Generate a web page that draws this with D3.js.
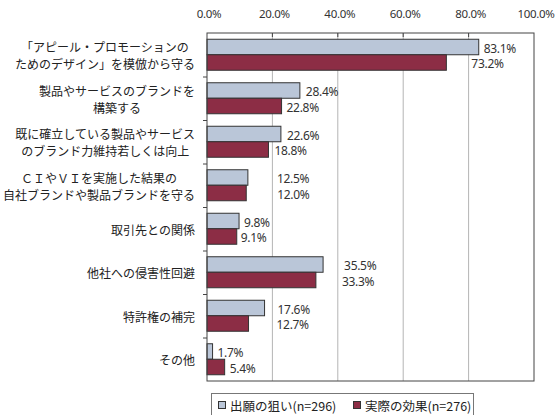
<!DOCTYPE html>
<html>
<head>
<meta charset="utf-8">
<script src="https://cdn.jsdelivr.net/npm/d3@7"></script>
<style>
  body { margin: 0; background: #fff; }
  svg { display: block; }
</style>
</head>
<body>
<script>
// categories (each label may be split in two lines)
var categories = [
  ["「アピール・プロモーションの", "ためのデザイン」を模倣から守る"],
  ["製品やサービスのブランドを", "構築する"],
  ["既に確立している製品やサービス", "のブランド力維持若しくは向上"],
  ["ＣＩやＶＩを実施した結果の", "自社ブランドや製品ブランドを守る"],
  ["取引先との関係"],
  ["他社への侵害性回避"],
  ["特許権の補完"],
  ["その他"]
];
var aims    = [83.1, 28.4, 22.6, 12.5, 9.8, 35.5, 17.6, 1.7];
var effects = [73.2, 22.8, 18.8, 12.0, 9.1, 33.3, 12.7, 5.4];
var seriesNames = ["出願の狙い(n=296)", "実際の効果(n=276)"];
var xTicks = [0, 20, 40, 60, 80, 100];

// label offsets from the bar end (px), labels were moved by hand in the original
var nudgeA = [5, 6, 6, 29, 5, 21, 13, 5];
var nudgeB = [25, 5, 6, 31, 4, 26, 28, 5];

var W = 556, H = 415;
var plotLeft = 207, plotRight = 534, plotTop = 33, plotBottom = 381;
var blue = "#bac6d8", red = "#8c2d45";

var svg = d3.select("body").append("svg")
  .attr("width", W).attr("height", H);

var x = d3.scaleLinear().domain([0, 100]).range([plotLeft, plotRight]);
var y = d3.scaleBand().domain(d3.range(categories.length)).range([plotTop, plotBottom]);
var bh = 15.5;
var off = (y.bandwidth() - 2 * bh) / 2;

// gridlines
svg.selectAll(".grid").data(xTicks.slice(1, -1)).enter().append("line")
  .attr("x1", d => x(d)).attr("x2", d => x(d))
  .attr("y1", plotTop).attr("y2", plotBottom)
  .attr("stroke", "#b4b4b4").attr("stroke-width", 1);

// top tick labels
svg.selectAll(".tl").data(xTicks).enter().append("text")
  .attr("x", d => x(d) + 2).attr("y", 18)
  .attr("text-anchor", "middle")
  .style("font-family", "'Noto Sans', sans-serif")
  .style("font-size", "11.5px").style("letter-spacing", "-0.3px")
  .attr("fill", "#333")
  .text(d => d.toFixed(1) + "%");

// top inner ticks
svg.selectAll(".tt").data(xTicks.slice(1, -1)).enter().append("line")
  .attr("x1", d => x(d)).attr("x2", d => x(d))
  .attr("y1", plotTop).attr("y2", plotTop + 4)
  .attr("stroke", "#444");

// left ticks at category boundaries
svg.selectAll(".lt").data(d3.range(1, categories.length)).enter().append("line")
  .attr("x1", plotLeft - 4).attr("x2", plotLeft)
  .attr("y1", d => y(d) + 0.5).attr("y2", d => y(d) + 0.5)
  .attr("stroke", "#444");

// bars
var g = svg.selectAll(".cat").data(categories).enter().append("g");

g.append("rect")
  .attr("x", plotLeft).attr("y", (d, i) => y(i) + off)
  .attr("width", (d, i) => x(aims[i]) - plotLeft).attr("height", bh)
  .attr("fill", blue).attr("stroke", "#333").attr("stroke-width", 1);

g.append("rect")
  .attr("x", plotLeft).attr("y", (d, i) => y(i) + off + bh)
  .attr("width", (d, i) => x(effects[i]) - plotLeft).attr("height", bh)
  .attr("fill", red).attr("stroke", "#333").attr("stroke-width", 1);

// value labels
var numStyle = function(sel) {
  sel.style("font-family", "'Noto Sans', sans-serif")
    .style("font-size", "12px").style("letter-spacing", "-0.3px")
    .attr("fill", "#333").attr("dominant-baseline", "central");
};
g.append("text")
  .attr("x", (d, i) => x(aims[i]) + nudgeA[i])
  .attr("y", (d, i) => y(i) + off + bh / 2 + 1)
  .call(numStyle)
  .text((d, i) => aims[i].toFixed(1) + "%");
g.append("text")
  .attr("x", (d, i) => x(effects[i]) + nudgeB[i])
  .attr("y", (d, i) => y(i) + off + bh * 1.5 + 1)
  .call(numStyle)
  .text((d, i) => effects[i].toFixed(1) + "%");

// frame
svg.append("rect")
  .attr("x", plotLeft).attr("y", plotTop)
  .attr("width", plotRight - plotLeft).attr("height", plotBottom - plotTop)
  .attr("fill", "none").attr("stroke", "#444");

// category labels: centered lines, block right aligned
var labelRight = 195, lh = 17;
g.each(function(lines, i) {
  var cy = y(i) + y.bandwidth() / 2;
  var t = d3.select(this).append("text")
    .style("font-family", "'Noto Sans CJK JP', sans-serif")
    .style("font-size", "12px")
    .attr("fill", "#222")
    .attr("text-anchor", "middle")
    .attr("dominant-baseline", "central");
  var spans = lines.map(function(s, k) {
    return t.append("tspan")
      .attr("y", cy + (k - (lines.length - 1) / 2) * lh)
      .text(s);
  });
  var maxW = d3.max(spans, s => s.node().getComputedTextLength());
  spans.forEach(s => s.attr("x", labelRight - maxW / 2));
});

// legend
var lg = svg.append("g");
lg.append("rect")
  .attr("x", 211.5).attr("y", 393.5).attr("width", 262).attr("height", 30)
  .attr("fill", "#fff").attr("stroke", "#777");
var items = [{name: seriesNames[0], c: blue, x: 218}, {name: seriesNames[1], c: red, x: 353}];
items.forEach(function(it) {
  lg.append("rect")
    .attr("x", it.x + 0.5).attr("y", 401.5).attr("width", 7).attr("height", 7)
    .attr("fill", it.c).attr("stroke", "#333");
  lg.append("text")
    .attr("x", it.x + 12).attr("y", 405.5)
    .attr("dominant-baseline", "central")
    .style("font-family", "'Noto Sans CJK JP', sans-serif")
    .style("font-size", "12.5px")
    .attr("fill", "#222")
    .text(it.name);
});
</script>
</body>
</html>
